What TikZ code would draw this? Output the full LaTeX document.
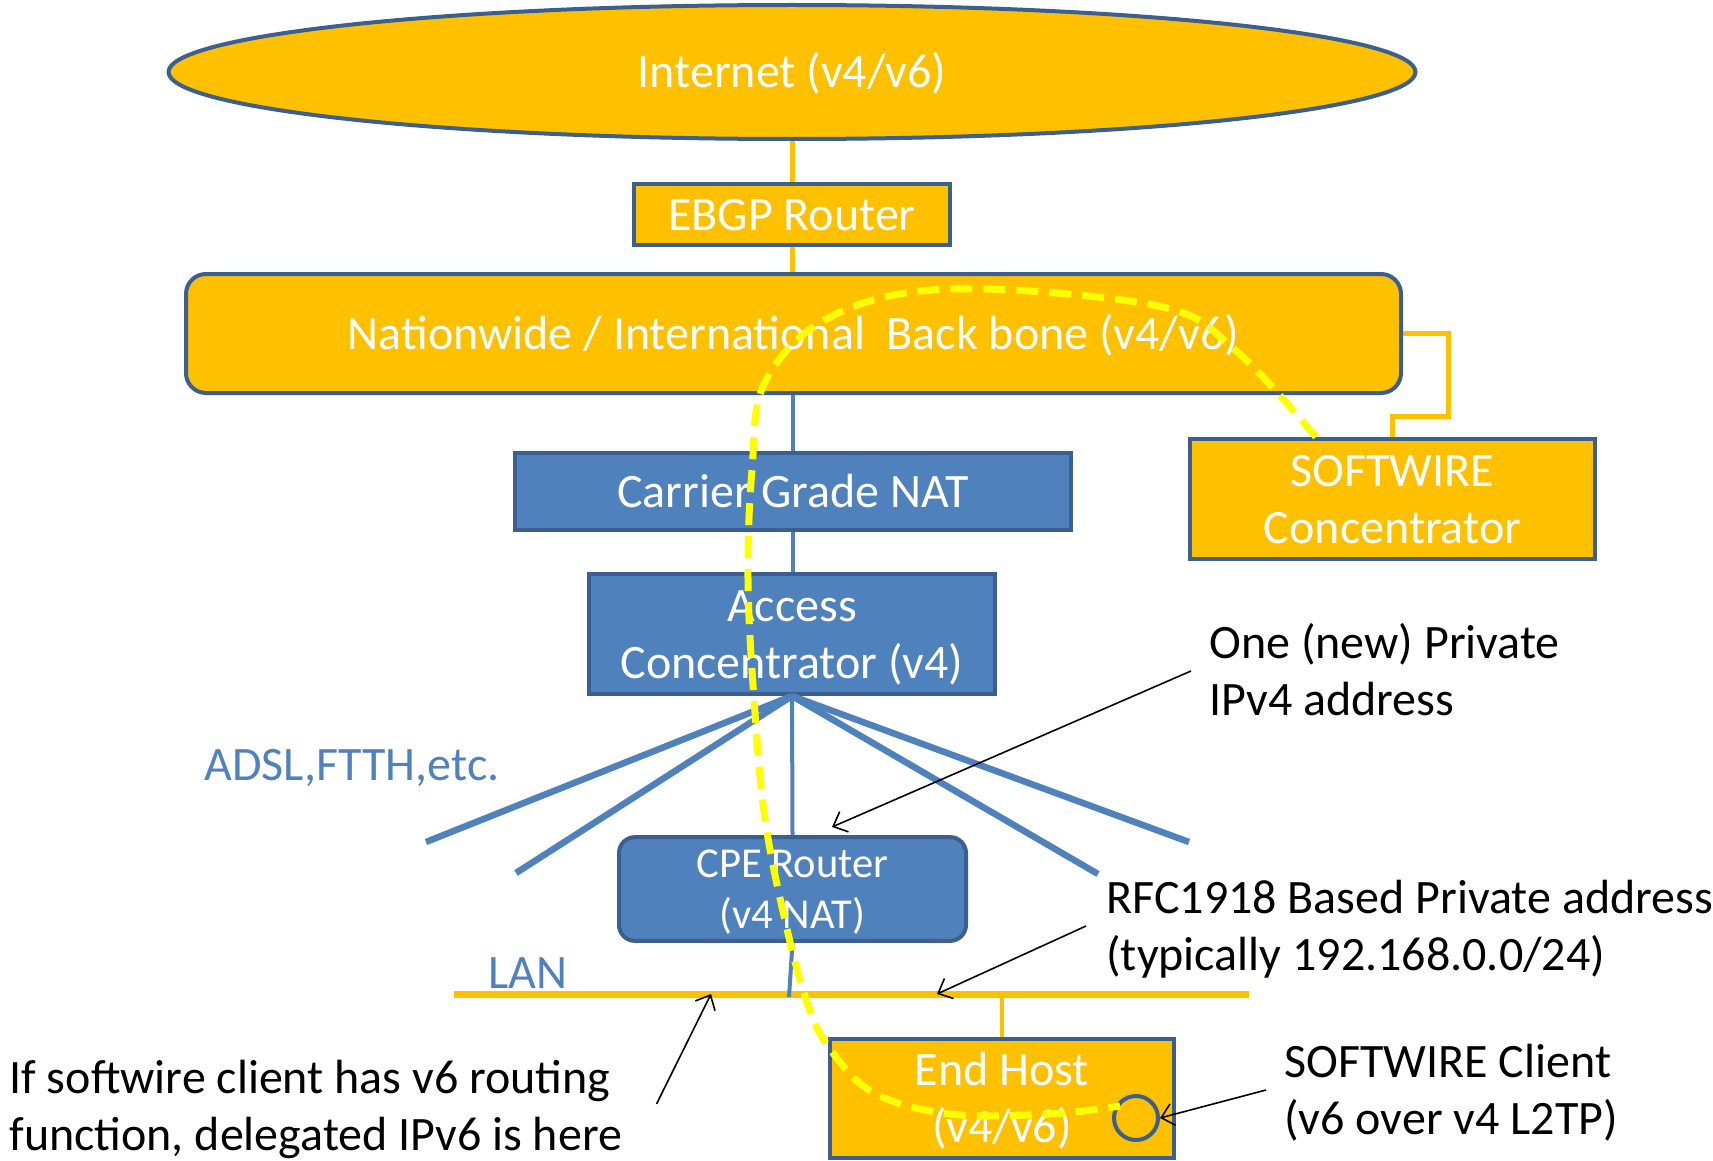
\documentclass[tikz,border=0pt]{standalone}
\usepackage{fontspec}
\setmainfont{Carlito}
\usetikzlibrary{shapes.geometric,arrows.meta}
\definecolor{boxorange}{HTML}{FFC000}
\definecolor{boxblue}{HTML}{4F81BD}
\definecolor{bordblue}{HTML}{3B5F8E}
\definecolor{pathyellow}{HTML}{FFFF00}
\newcommand{\bigfont}{\fontsize{24}{28.5}\selectfont}
\newcommand{\cpefont}{\fontsize{21.3}{25.9}\selectfont}
% struts so that every label sits on the same baseline grid
\newcommand{\lbl}[1]{\rule{0pt}{0.94em}#1\rule[-0.28em]{0pt}{0.28em}}

\begin{document}
\begin{tikzpicture}[x=0.5pt,y=-0.5pt,
  >={Straight Barb[length=6pt,width=11pt]},
  orangebox/.style={draw=bordblue, line width=2pt, fill=boxorange, text=white,
                    inner sep=0pt, align=center, font=\bigfont},
  bluebox/.style={draw=bordblue, line width=2pt, fill=boxblue, text=white,
                  inner sep=0pt, align=center, font=\bigfont},
  orangeline/.style={boxorange, line width=2.5pt},
  blueline/.style={boxblue, line width=2pt},
  fanline/.style={boxblue, line width=3.25pt},
  note/.style={black, font=\bigfont, align=left, inner sep=0pt},
  pointer/.style={->, black, line width=0.8pt}]
\useasboundingbox (0,0) rectangle (1713,1161);

% Internet cloud and the core
\node [orangebox, ellipse, minimum width=623.5pt, minimum height=67pt] (inet) at (792,72) {\lbl{Internet (v4/v6)}};
\node [orangebox, minimum width=158pt, minimum height=30.5pt] (ebgp) at (792,214.5) {\lbl{EBGP Router}};
\node [orangebox, rounded corners=10pt, minimum width=607.5pt, minimum height=59.5pt] (bbone) at (793.5,333.5) {\lbl{Nationwide / International~~Back bone (v4/v6)}};

  % softwire concentrator beside the backbone
\node [orangebox, minimum width=202.5pt, minimum height=60pt] (swconc) at (1392.5,499) {\lbl{SOFTWIRE\\Concentrator}};

  % access side
\node [bluebox, minimum width=278pt, minimum height=38.5pt] (cgn) at (793,491.5) {\lbl{Carrier Grade NAT}};
\node [bluebox, minimum width=203pt, minimum height=60pt] (access) at (792,634) {\lbl{Access\\Concentrator (v4)}};
\node [bluebox, rounded corners=8pt, font=\cpefont, minimum width=173.5pt, minimum height=46pt] (cpe) at (792.5,889) {\lbl{CPE Router\\(v4 NAT)}};
\node [orangebox, minimum width=172pt, minimum height=59.5pt] (host) at (1002,1098.5) {\lbl{End Host\\(v4/v6)}};

% links
\draw [orangeline] (inet.south) -- (ebgp.north);
\draw [orangeline] (ebgp.south) -- (ebgp.south |- bbone.north);
\draw [orangeline] (bbone.east) -- (1448,333.5) -- (1448,416) -| (swconc.north);
\draw [blueline] (bbone.south -| cgn.north) -- (cgn.north);
\draw [blueline] (cgn.south) -- (cgn.south |- access.north);

  % subscriber lines
\coordinate (f1) at (426,842);
\coordinate (f2) at (516,873);
\coordinate (f3) at (1098,874);
\coordinate (f4) at (1189,842);
\foreach \f in {f1,f2,f3,f4}
  \draw [fanline] (access.south) -- (\f);
\draw [blueline] (access.south) -- (cpe.north);
\node [text=boxblue, font=\bigfont, inner sep=0pt] (adsl) at (352,765) {\lbl{ADSL,FTTH,etc.}};

  % LAN
\coordinate (lanl) at (454,994);
\coordinate (lanr) at (1249,994);
\draw [boxorange, line width=3.5pt] (lanl) -- (lanr);
\draw [blueline] (cpe.south) -- (789,997);
\draw [orangeline, line width=2.25pt] (host.north) -- (host.north |- lanl);
\node [text=boxblue, font=\bigfont, inner sep=0pt] (lan) at (528,973) {\lbl{LAN}};

  % softwire client
\node [circle, draw=bordblue, line width=2pt, minimum size=22pt, inner sep=0pt] (swc) at (1136,1118) {};

% notes
\node [note, anchor=west] (newaddr) at (1209,671) {\lbl{One (new) Private\\IPv4 address}};
\node [note, anchor=west] (rfcaddr) at (1106,926) {\lbl{RFC1918 Based Private address\\(typically 192.168.0.0/24)}};
\node [note, anchor=west] (swclient) at (1284,1090) {\lbl{SOFTWIRE Client\\(v6 over v4 L2TP)}};
\node [note, anchor=west] (deleg) at (9,1106) {\lbl{If softwire client has v6 routing\\function, delegated IPv6 is here}};

\coordinate (cpetip) at (832,827);
\coordinate (lantip) at (937,994);
\coordinate (v6tip) at (711,994);
\draw [pointer] ([xshift=-9pt]newaddr.west) -- (cpetip);
\draw [pointer] ([xshift=-10pt]rfcaddr.west) -- (lantip);
\draw [pointer] ([xshift=-9pt]swclient.west) -- (swc.east);
\draw [pointer] ([xshift=17pt,yshift=1pt]deleg.east) -- (v6tip);

% softwire tunnel
\draw [pathyellow, line width=3.5pt, dash pattern=on 11pt off 5.5pt]
  plot [smooth, tension=0.6] coordinates {(1316,437) (1235,350) (1158,306) (950,289) (830,317)
    (765,382) (752,470) (748,579) (754,699) (765,819) (787,929) (808,1005) (830,1049)
    (874,1093) (950,1114) (1049,1114) (1120,1106)};

\end{tikzpicture}
\end{document}
